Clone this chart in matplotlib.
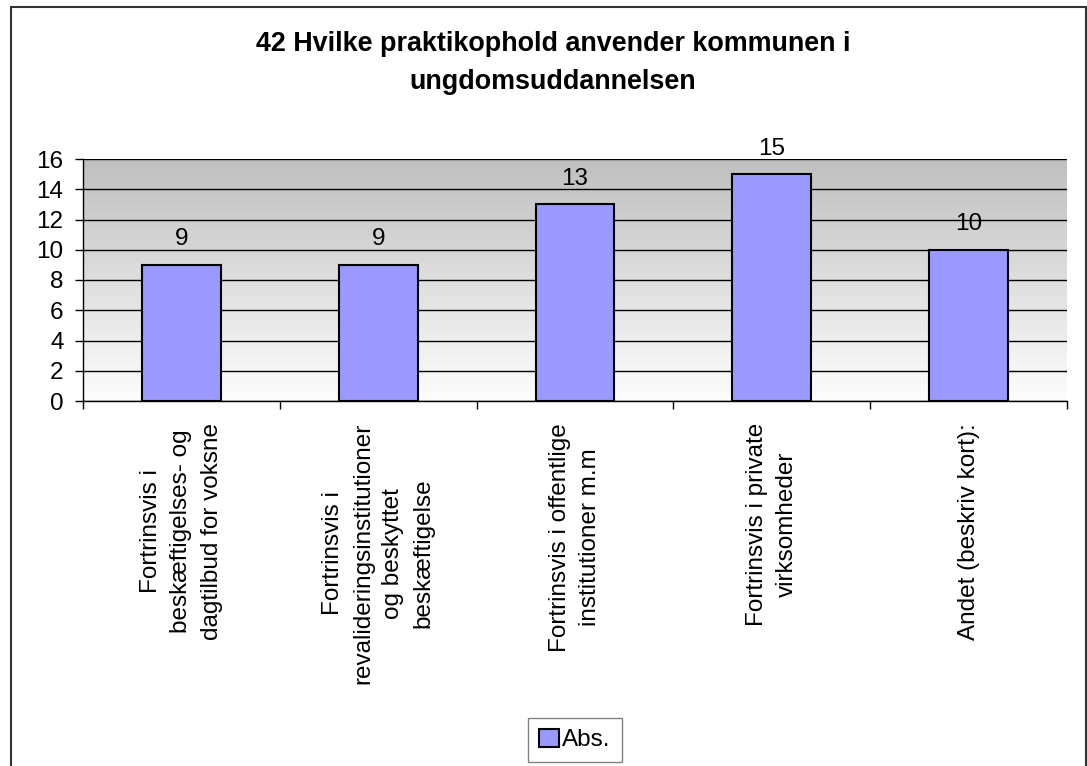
import numpy as np
import matplotlib
matplotlib.use("Agg")
from matplotlib import pyplot as plt
from matplotlib.colors import LinearSegmentedColormap
from matplotlib.patches import Rectangle

plt.rcParams['font.family'] = ['Liberation Sans', 'DejaVu Sans']

title = "42 Hvilke praktikophold anvender kommunen i\nungdomsuddannelsen"
categories = [
    "Fortrinsvis i\nbeskæftigelses- og\ndagtilbud for voksne",
    "Fortrinsvis i\nrevalideringsinstitutioner\nog beskyttet\nbeskæftigelse",
    "Fortrinsvis i offentlige\ninstitutioner m.m",
    "Fortrinsvis i private\nvirksomheder",
    "Andet (beskriv kort):",
]
values = [9, 9, 13, 15, 10]
series_name = "Abs."

W, H = 1087, 766
fs = 17.5
fig = plt.figure(figsize=(W / 100, H / 100), dpi=100)
ax = fig.add_axes([83 / W, 1 - 401 / H, (1067 - 83) / W, (401 - 159) / H])

x = np.arange(len(values))
ax.set_xlim(-0.5, len(values) - 0.5)
ax.set_ylim(0, 16)

# grey-to-white background gradient
grad = LinearSegmentedColormap.from_list("bg", ["#fdfdfd", "#bfbfbf"])
ax.imshow(np.linspace(0, 1, 256).reshape(-1, 1), cmap=grad, origin="lower",
          extent=[-0.5, len(values) - 0.5, 0, 16], aspect="auto", zorder=0)

ax.set_yticks(np.arange(0, 17, 2))
ax.yaxis.grid(True, color="black", linewidth=1.0, zorder=1)
ax.set_axisbelow(False)

bars = ax.bar(x, values, width=0.4, color="#9999ff", edgecolor="black",
              linewidth=1.5, zorder=3, label=series_name)
for xi, v in zip(x, values):
    ax.annotate(str(v), (xi, v), xytext=(0, 14), textcoords="offset points",
                ha="center", va="baseline", fontsize=fs, zorder=4)

for s in ("top", "right"):
    ax.spines[s].set_visible(False)
for s in ("left", "bottom"):
    ax.spines[s].set_color("black")
    ax.spines[s].set_linewidth(1.0)
    ax.spines[s].set_zorder(4)

ax.tick_params(axis="y", direction="out", length=6, width=1, pad=8, labelsize=fs)
ax.set_xticks(x)
ax.set_xticklabels([])
ax.tick_params(axis="x", which="major", length=0)
ax.set_xticks(np.arange(-0.5, len(values), 1), minor=True)
ax.tick_params(axis="x", which="minor", direction="out", length=6, width=1)

for xi, lab in zip(x, categories):
    ax.text(xi, -0.09, lab, transform=ax.get_xaxis_transform(), rotation=90,
            ha="center", va="top", multialignment="center", fontsize=fs,
            linespacing=1.48)

fig.text(553 / W, 1 - 63 / H, title, ha="center", va="center", fontsize=19.4,
         fontweight="bold", linespacing=1.6)

fig.legend(handles=[bars], labels=[series_name], loc="center",
           bbox_to_anchor=(575 / W, 1 - 740 / H), fontsize=fs, fancybox=False,
           edgecolor="#808080", framealpha=1, handlelength=0.8, handleheight=0.8,
           handletextpad=0.15, borderpad=0.45, borderaxespad=0)

# outer chart border
fig.patches.append(Rectangle((11 / W, -0.05), (1086 - 11) / W, 1.05 - 7 / H,
                             transform=fig.transFigure, fill=False,
                             edgecolor="#333333", linewidth=1.5))

fig.savefig("out.png", dpi=100)
